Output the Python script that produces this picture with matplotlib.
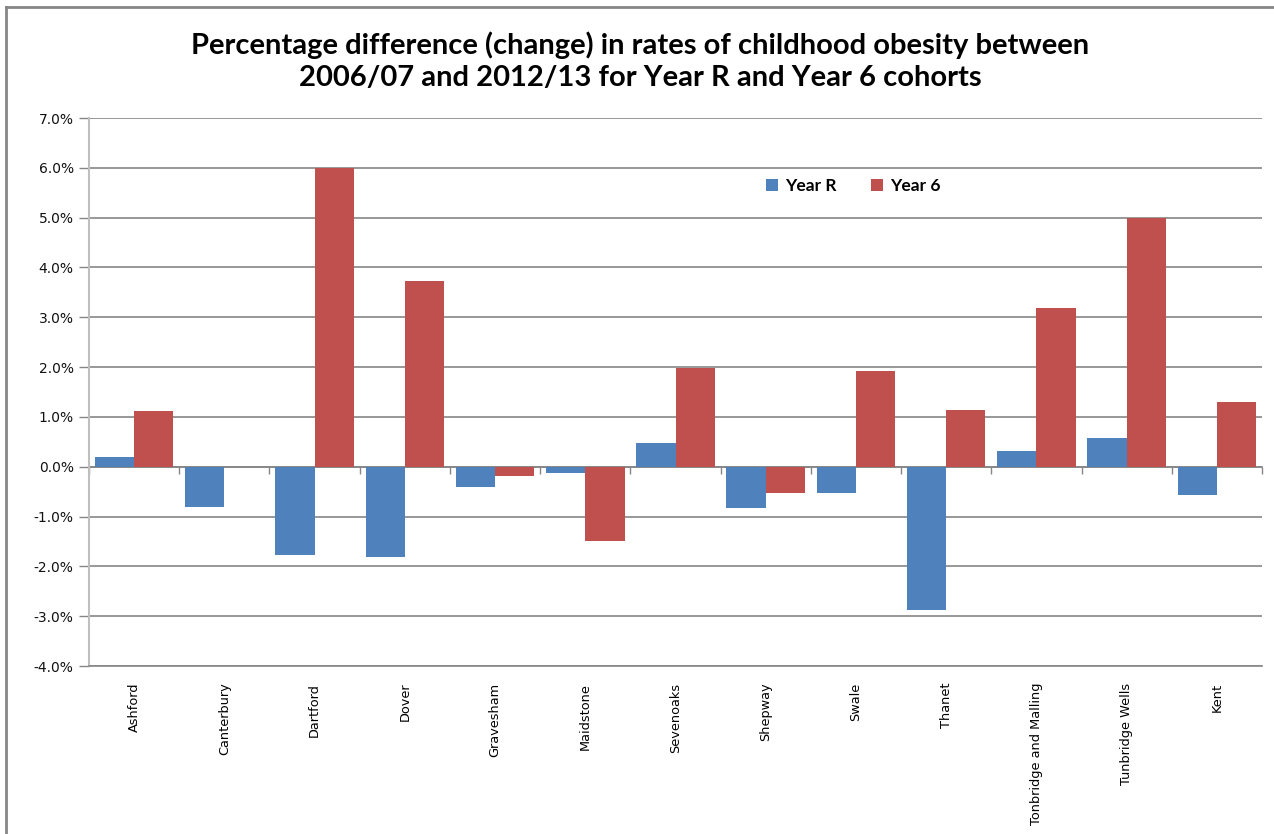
import matplotlib
matplotlib.use("Agg")
import matplotlib.pyplot as plt
import numpy as np
from matplotlib.lines import Line2D
from matplotlib.patches import Patch
from matplotlib.ticker import FuncFormatter, FixedLocator

districts = ["Ashford", "Canterbury", "Dartford", "Dover", "Gravesham",
             "Maidstone", "Sevenoaks", "Shepway", "Swale", "Thanet",
             "Tonbridge and Malling", "Tunbridge Wells", "Kent"]
year_r = [0.19, -0.81, -1.77, -1.81, -0.41, -0.13, 0.48, -0.82, -0.53,
          -2.87, 0.32, 0.58, -0.57]
year_6 = [1.11, 0.0, 6.00, 3.73, -0.19, -1.49, 1.99, -0.53, 1.92,
          1.14, 3.18, 5.00, 1.30]
y_ticks = [7, 6, 5, 4, 3, 2, 1, 0, -1, -2, -3, -4]

BLUE = "#4F81BD"
RED = "#C0504D"
GRID = "#868686"

W, H = 1274, 834
fig = plt.figure(figsize=(W / 100, H / 100), dpi=100)
ax = fig.add_axes([89 / W, 1 - 666 / H, (1262 - 89) / W, (666 - 118) / H])

x = np.arange(len(districts))
bw = 0.435
ax.bar(x - bw / 2, year_r, width=bw, color=BLUE, label="Year R", zorder=3)
ax.bar(x + bw / 2, year_6, width=bw, color=RED, label="Year 6", zorder=3)

ymin, ymax = min(y_ticks), max(y_ticks)
ax.set_ylim(ymin, ymax)
ax.set_xlim(-0.5, len(districts) - 0.5)

# horizontal gridlines
ax.set_yticks(y_ticks)
ax.yaxis.grid(True, color=GRID, linewidth=1.2, zorder=1)
ax.yaxis.set_major_formatter(FuncFormatter(lambda v, p: f"{v:.1f}%"))
ax.tick_params(axis="y", direction="out", length=7, width=1, color=GRID,
               labelsize=10, labelcolor="#111111", pad=4)

# category labels along the bottom
ax.set_xticks(x)
ax.set_xticklabels(districts, rotation=90, fontsize=9.3, va="top", ha="center")
ax.tick_params(axis="x", length=0, pad=12)

for s in ["top", "right"]:
    ax.spines[s].set_visible(False)
ax.spines["bottom"].set_color(GRID)
ax.spines["bottom"].set_linewidth(1.2)
ax.spines["left"].set_color("#BFBFBF")
ax.spines["left"].set_linewidth(1.5)

# category axis crossing at zero with boundary ticks
zero_frac = (0 - ymin) / (ymax - ymin)
sec = ax.secondary_xaxis(zero_frac)
sec.xaxis.set_major_locator(FixedLocator(np.arange(-0.5, len(districts) + 0.5, 1.0)))
sec.tick_params(axis="x", direction="out", length=5, width=1, color=GRID, labelbottom=False)
sec.spines["bottom"].set_color(GRID)
sec.spines["bottom"].set_linewidth(1.2)

# legend
handles = [Patch(facecolor=BLUE, label="Year R"), Patch(facecolor=RED, label="Year 6")]
leg = fig.legend(handles=handles, loc="center", bbox_to_anchor=(853 / W, 1 - 186 / H),
                 ncol=2, frameon=False, handlelength=0.7, handleheight=0.7,
                 handletextpad=0.4, columnspacing=2.0,
                 prop={"family": ["Lato", "DejaVu Sans"], "weight": "bold", "size": 12.5})

# title
fig.text(640 / W, 1 - 61 / H,
         "Percentage difference (change) in rates of childhood obesity between\n"
         "2006/07 and 2012/13 for Year R and Year 6 cohorts",
         ha="center", va="center", fontsize=21, fontweight="bold",
         family=["Lato", "DejaVu Sans"], linespacing=1.3)

# chart border
fig.add_artist(Line2D([6 / W, 6 / W], [0, 1 - 7 / H], transform=fig.transFigure,
                      color=GRID, linewidth=2))
fig.add_artist(Line2D([6 / W, 1], [1 - 7 / H, 1 - 7 / H], transform=fig.transFigure,
                      color=GRID, linewidth=2))

fig.savefig("out.png", dpi=100, facecolor="white")
